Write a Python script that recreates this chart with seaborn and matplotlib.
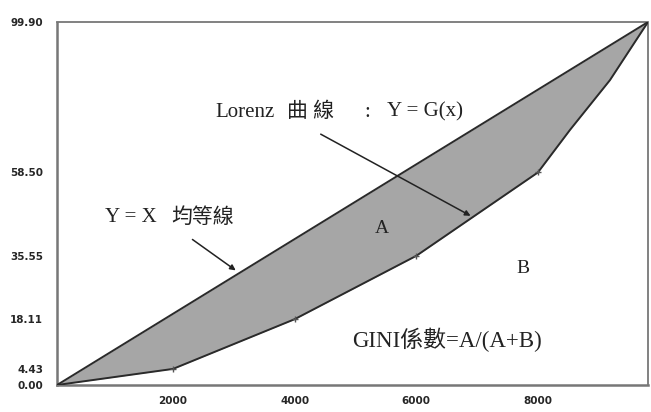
import numpy as np
import pandas as pd
import matplotlib
matplotlib.use("Agg")
import matplotlib.pyplot as plt
import seaborn as sns

# Lorenz curve points (cumulative population x, cumulative share y)
lorenz_x = [94, 2000, 4000, 6000, 8000, 8527, 9184, 9810]
lorenz_y = [0.0, 4.43, 18.11, 35.55, 58.50, 70.2, 83.9, 99.90]

# line of equality Y=X
equal_x = [94, 9810]
equal_y = [0.0, 99.90]

# axis ticks
x_ticks = [2000, 4000, 6000, 8000]
x_tick_labels = ["2000", "4000", "6000", "8000"]
y_ticks = [0.0, 4.43, 18.11, 35.55, 58.50, 99.90]
y_tick_labels = ["0.00", "4.43", "18.11", "35.55", "58.50", "99.90"]

sns.set_style("white")
plt.rcParams['font.family'] = ['Liberation Serif', 'Noto Sans CJK TC', 'DejaVu Sans']

fig = plt.figure(figsize=(6.51, 4.12), dpi=100)
ax = fig.add_axes([0.0876, 0.0655, 0.9078, 0.8811])

# shaded area A between equality line and Lorenz curve
eq_interp = np.interp(lorenz_x, equal_x, equal_y)
ax.fill_between(lorenz_x, lorenz_y, eq_interp, color="#a6a6a6", lw=0, zorder=1)

lorenz_df = pd.DataFrame({"x": lorenz_x, "y": lorenz_y})
equal_df = pd.DataFrame({"x": equal_x, "y": equal_y})
sns.lineplot(data=equal_df, x="x", y="y", ax=ax, color="#2a2a2a", lw=1.4, zorder=3)
sns.lineplot(data=lorenz_df, x="x", y="y", ax=ax, color="#2a2a2a", lw=1.4, zorder=3)
ax.plot(lorenz_x[1:5], lorenz_y[1:5], ls="none", marker="+", ms=5, color="#555555", zorder=4)

ax.set_xlim(equal_x[0], equal_x[1])
ax.set_ylim(0, 99.90)
ax.set_xticks(x_ticks)
ax.set_xticklabels(x_tick_labels, fontsize=7.5, fontweight="bold", family="DejaVu Sans")
ax.set_yticks(y_ticks)
ax.set_yticklabels(y_tick_labels, fontsize=7.5, fontweight="bold", family="DejaVu Sans")
ax.tick_params(axis="both", direction="out", length=8, width=1.2, color="#333333", pad=2)
ax.tick_params(axis="x", length=5, pad=3)
ax.set_xlabel("")
ax.set_ylabel("")
for side in ["left", "bottom", "top", "right"]:
    ax.spines[side].set_visible(True)
    ax.spines[side].set_color("#777777")
    ax.spines[side].set_linewidth(1.3)
    ax.spines[side].set_linestyle((0, (1, 1)))
ax.spines["left"].set_linewidth(1.8)
ax.spines["bottom"].set_linewidth(1.8)

# annotations
txt = dict(fontsize=15, va="center", ha="left", color="#222222")
ax.text(2695, 75.1, "Lorenz", **txt)
ax.text(3870, 75.1, "曲 線", **txt)
ax.text(5140, 75.1, ":", **txt)
ax.text(5520, 75.1, "Y = G(x)", **txt)
ax.annotate("", xy=(6933, 46.2), xytext=(4389, 69.4),
            arrowprops=dict(arrowstyle="-|>", color="#222222", lw=1.1, mutation_scale=8))
ax.text(880, 46.0, "Y = X", **txt)
ax.text(1980, 46.0, "均等線", **txt)
ax.annotate("", xy=(3069, 31.1), xytext=(2283, 40.5),
            arrowprops=dict(arrowstyle="-|>", color="#222222", lw=1.1, mutation_scale=8))
ax.text(5436, 43.2, "A", fontsize=14, va="center", ha="center", color="#222222")
ax.text(7754, 32.2, "B", fontsize=14, va="center", ha="center", color="#222222")
ax.text(6500, 12.4, "GINI係數=A/(A+B)", fontsize=16.5, va="center", ha="center", color="#222222")

fig.savefig("out.png", dpi=100)
